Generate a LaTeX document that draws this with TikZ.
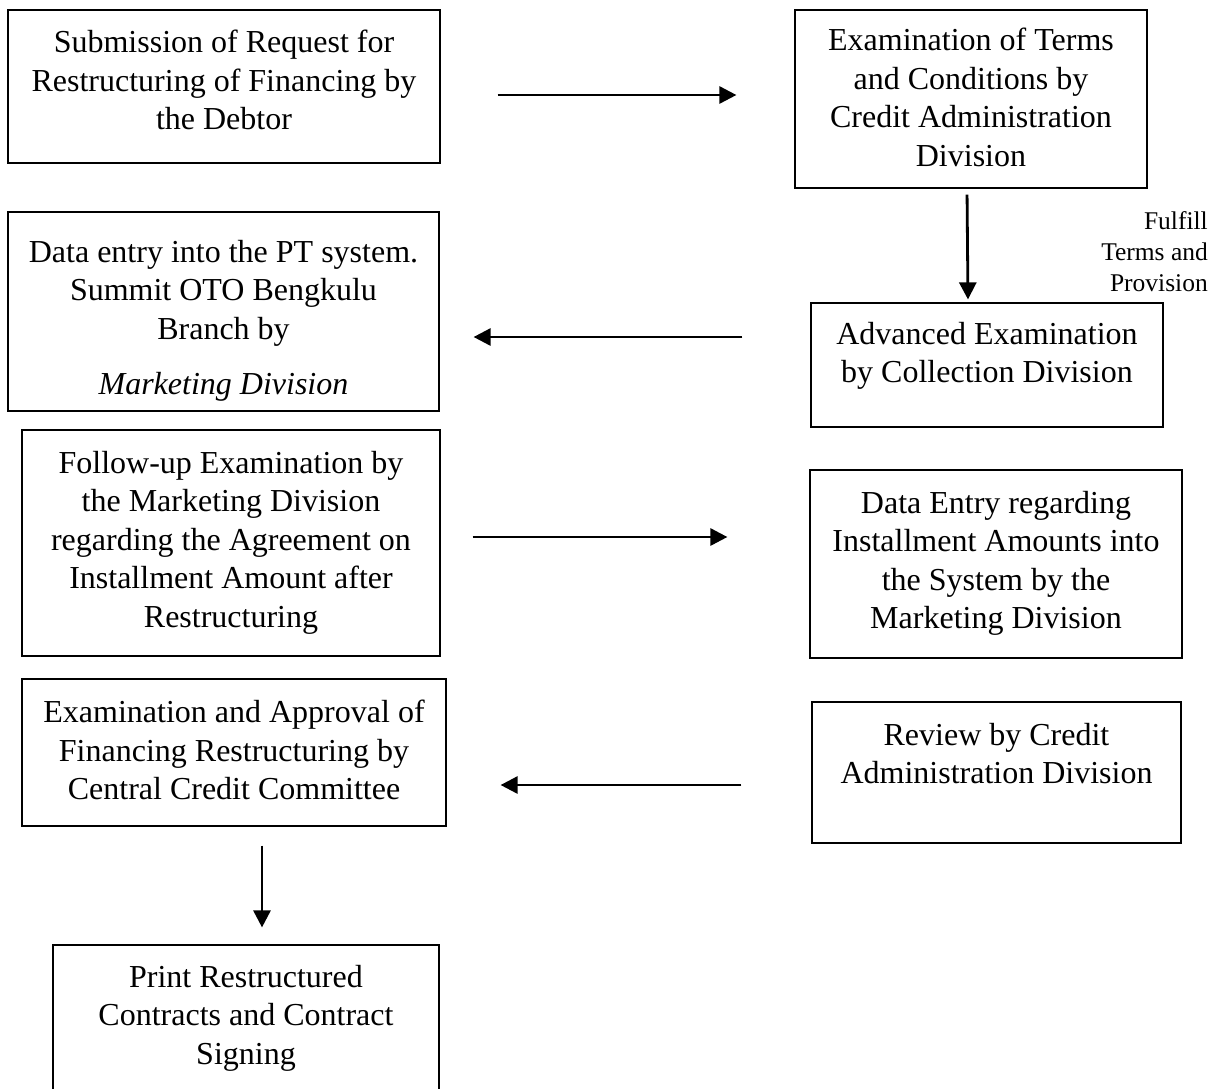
\documentclass[tikz,border=0pt]{standalone}
\usepackage{fontspec}
\setmainfont{Liberation Serif}
\usepackage{tikz}
\usetikzlibrary{arrows.meta, positioning, calc}
\newcommand{\boxfont}{\fontsize{32}{38.5}\selectfont}
\newcommand{\notefont}{\fontsize{25.5}{31}\selectfont}
\tikzset{
  stepbox/.style={draw, line width=1.2pt, inner sep=0pt},
  steptext/.style={align=center, inner sep=0pt, anchor=north, font=\boxfont},
  arrow/.style={-{Triangle[length=17pt, width=17pt]}, line width=2.8pt},
  note/.style={align=right, inner sep=0pt, anchor=north east, font=\notefont}
}
\begin{document}
\begin{tikzpicture}[x=1pt, y=-1pt]
    \useasboundingbox (0,0) rectangle (1220,1088);
    % boxes
    \node[stepbox, minimum width=432pt, minimum height=153pt] (sub) at (224,86.5) {};
    \node[stepbox, minimum width=352pt, minimum height=178pt] (exam) at (971,99) {};
    \node[stepbox, minimum width=431pt, minimum height=199pt] (entry) at (223.5,311.5) {};
    \node[stepbox, minimum width=352pt, minimum height=124pt] (adv) at (987,365) {};
    \node[stepbox, minimum width=418pt, minimum height=226pt] (follow) at (231,543) {};
    \node[stepbox, minimum width=372pt, minimum height=188pt] (inst) at (996,564) {};
    \node[stepbox, minimum width=424pt, minimum height=147pt] (approve) at (234,752.5) {};
    \node[stepbox, minimum width=369pt, minimum height=141pt] (review) at (996.5,772.5) {};
    \node[stepbox, minimum width=386pt, minimum height=155pt] (print) at (246,1022.5) {};
    % texts
    \node[steptext] (sub-txt) at (224,30) {Submission of Request for\\Restructuring of Financing by\\the Debtor};
    \node[steptext] (exam-txt) at (971,28) {Examination of Terms\\and Conditions by\\Credit Administration\\Division};
    \node[steptext] (entry-txt) at (223.5,240) {Data entry into the PT system.\\Summit OTO Bengkulu\\Branch by\\[16.5pt]\textit{Marketing Division}};
    \node[steptext] (adv-txt) at (987,322) {Advanced Examination\\by Collection Division};
    \node[steptext] (follow-txt) at (231,451) {Follow-up Examination by\\the Marketing Division\\regarding the Agreement on\\Installment Amount after\\Restructuring};
    \node[steptext] (inst-txt) at (996,491) {Data Entry regarding\\Installment Amounts into\\the System by the\\Marketing Division};
    \node[steptext] (approve-txt) at (234,700) {Examination and Approval of\\Financing Restructuring by\\Central Credit Committee};
    \node[steptext] (review-txt) at (996.5,723) {Review by Credit\\Administration Division};
    \node[steptext] (print-txt) at (246,965) {Print Restructured\\Contracts and Contract\\Signing};
    \node[note] (fulfill) at (1208,211) {Fulfill\\Terms and\\Provision};
    % arrows
    \draw[arrow, shorten <=57pt, shorten >=58pt] ([yshift=-8.5pt]sub.east) -- ([yshift=4pt]exam.west);
    \draw[arrow, shorten <=6pt, shorten >=3pt] ([xshift=-4pt]exam.south) -- ([xshift=-19pt]adv.north);
    \draw[arrow, shorten <=68pt, shorten >=34pt] ([yshift=28pt]adv.west) -- ([yshift=-25.5pt]entry.east);
    \draw[arrow, shorten <=32pt, shorten >=82pt] ([yshift=6pt]follow.east) -- ([yshift=27pt]inst.west);
    \draw[arrow, shorten <=70pt, shorten >=54pt] ([yshift=-12.5pt]review.west) -- ([yshift=-32.5pt]approve.east);
    \draw[arrow, shorten <=19pt, shorten >=17pt] ([xshift=28pt]approve.south) -- ([xshift=16pt]print.north);
\end{tikzpicture}
\end{document}
